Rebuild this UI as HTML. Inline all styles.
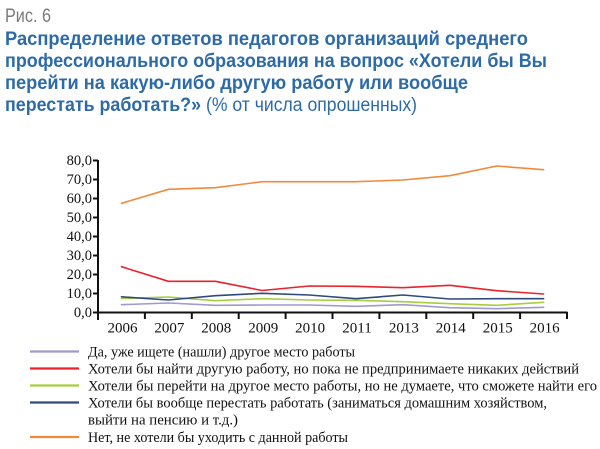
<!DOCTYPE html>
<html>
<head>
<meta charset="utf-8">
<style>
html,body{margin:0;padding:0;background:#fff;}
svg{display:block;}
</style>
</head>
<body>
<svg width="600" height="449" viewBox="0 0 600 449" xmlns="http://www.w3.org/2000/svg">
  <rect width="600" height="449" fill="#fff"/>
  <!-- Header -->
  <text x="5" y="22" font-family="Liberation Sans, sans-serif" font-size="19" fill="#7a7a7a" textLength="46" lengthAdjust="spacingAndGlyphs">Рис. 6</text>
  <g font-family="Liberation Sans, sans-serif" font-size="19" font-weight="bold" fill="#2d6aa8">
    <text x="5" y="45" textLength="523" lengthAdjust="spacingAndGlyphs">Распределение ответов педагогов организаций среднего</text>
    <text x="5" y="67" textLength="542" lengthAdjust="spacingAndGlyphs">профессионального образования на вопрос «Хотели бы Вы</text>
    <text x="5" y="89" textLength="463" lengthAdjust="spacingAndGlyphs">перейти на какую-либо другую работу или вообще</text>
    <text x="5" y="111" textLength="196" lengthAdjust="spacingAndGlyphs">перестать работать?»</text>
  </g>
  <text x="206" y="111" font-family="Liberation Sans, sans-serif" font-size="19" fill="#2d6aa8" textLength="211" lengthAdjust="spacingAndGlyphs">(% от числа опрошенных)</text>

  <!-- Y axis labels -->
  <g font-family="Liberation Serif, serif" font-size="14.5" fill="#111" text-anchor="end">
    <text x="92" y="165">80,0</text>
    <text x="92" y="184">70,0</text>
    <text x="92" y="203">60,0</text>
    <text x="92" y="222">50,0</text>
    <text x="92" y="241">40,0</text>
    <text x="92" y="260">30,0</text>
    <text x="92" y="279">20,0</text>
    <text x="92" y="298">10,0</text>
    <text x="92" y="317">0,0</text>
  </g>
  <!-- Axes -->
  <g stroke="#111" stroke-width="2" fill="none">
    <line x1="98" y1="160" x2="98" y2="313"/>
    <line x1="97" y1="312.5" x2="567.5" y2="312.5"/>
    <line x1="93" y1="160.5" x2="98" y2="160.5"/>
    <line x1="93" y1="179.5" x2="98" y2="179.5"/>
    <line x1="93" y1="198.5" x2="98" y2="198.5"/>
    <line x1="93" y1="217.5" x2="98" y2="217.5"/>
    <line x1="93" y1="236.5" x2="98" y2="236.5"/>
    <line x1="93" y1="255.5" x2="98" y2="255.5"/>
    <line x1="93" y1="274.5" x2="98" y2="274.5"/>
    <line x1="93" y1="293.5" x2="98" y2="293.5"/>
    <line x1="93" y1="312.5" x2="98" y2="312.5"/>
    <line x1="98" y1="312" x2="98" y2="320"/>
    <line x1="144.9" y1="312" x2="144.9" y2="319"/>
    <line x1="191.8" y1="312" x2="191.8" y2="319"/>
    <line x1="238.7" y1="312" x2="238.7" y2="319"/>
    <line x1="285.6" y1="312" x2="285.6" y2="319"/>
    <line x1="332.5" y1="312" x2="332.5" y2="319"/>
    <line x1="379.4" y1="312" x2="379.4" y2="319"/>
    <line x1="426.3" y1="312" x2="426.3" y2="319"/>
    <line x1="473.2" y1="312" x2="473.2" y2="319"/>
    <line x1="520.1" y1="312" x2="520.1" y2="319"/>
    <line x1="567" y1="312" x2="567" y2="319"/>
  </g>
  <!-- X labels -->
  <g font-family="Liberation Serif, serif" font-size="15" fill="#111" text-anchor="middle">
    <text x="122.5" y="332.5">2006</text>
    <text x="169.4" y="332.5">2007</text>
    <text x="216.3" y="332.5">2008</text>
    <text x="263.2" y="332.5">2009</text>
    <text x="310.1" y="332.5">2010</text>
    <text x="357" y="332.5">2011</text>
    <text x="403.9" y="332.5">2013</text>
    <text x="450.8" y="332.5">2014</text>
    <text x="497.7" y="332.5">2015</text>
    <text x="544.6" y="332.5">2016</text>
  </g>

  <!-- Series -->
  <g fill="none" stroke-width="1.6" stroke-linejoin="round" stroke-linecap="round">
    <polyline stroke="#9e9ad0" points="121.5,304.7 168.4,303 215.3,305.3 262.2,305 309.1,305 356,306.3 402.9,304.7 449.8,307.7 496.7,308.7 543.6,307.3"/>
    <polyline stroke="#a8cd3e" points="121.5,298.5 168.4,297 215.3,300.7 262.2,298.7 309.1,300 356,300.3 402.9,301.7 449.8,303.7 496.7,305.3 543.6,302.3"/>
    <polyline stroke="#2e4b7c" points="121.5,296.8 168.4,300 215.3,295.7 262.2,293.3 309.1,295 356,298.7 402.9,295 449.8,299 496.7,298.7 543.6,298.7"/>
    <polyline stroke="#e8232c" points="121.5,266.7 168.4,281.3 215.3,281.3 262.2,290.5 309.1,286 356,286.3 402.9,287.7 449.8,285.3 496.7,290.7 543.6,294"/>
    <polyline stroke="#f08a3c" points="121.5,203.3 168.4,189.3 215.3,187.7 262.2,181.7 309.1,181.7 356,181.7 402.9,180 449.8,175.7 496.7,166 543.6,169.7"/>
  </g>

  <!-- Legend -->
  <g stroke-width="2.2">
    <line x1="30" y1="351.5" x2="79" y2="351.5" stroke="#9e9ad0"/>
    <line x1="30" y1="368.5" x2="79" y2="368.5" stroke="#e8232c"/>
    <line x1="30" y1="385.5" x2="79" y2="385.5" stroke="#a8cd3e"/>
    <line x1="30" y1="402.5" x2="79" y2="402.5" stroke="#2e4b7c"/>
    <line x1="30" y1="437" x2="79" y2="437" stroke="#f08a3c"/>
  </g>
  <g font-family="Liberation Serif, serif" font-size="15" fill="#111">
    <text x="88" y="356.5" textLength="267" lengthAdjust="spacingAndGlyphs">Да, уже ищете (нашли) другое место работы</text>
    <text x="88" y="373.5" textLength="491" lengthAdjust="spacingAndGlyphs">Хотели бы найти другую работу, но пока не предпринимаете никаких действий</text>
    <text x="88" y="390.5" textLength="509" lengthAdjust="spacingAndGlyphs">Хотели бы перейти на другое место работы, но не думаете, что сможете найти его</text>
    <text x="88" y="407.5" textLength="459" lengthAdjust="spacingAndGlyphs">Хотели бы вообще перестать работать (заниматься домашним хозяйством,</text>
    <text x="88" y="424.5" textLength="150" lengthAdjust="spacingAndGlyphs">выйти на пенсию и т.д.)</text>
    <text x="88" y="442" textLength="260" lengthAdjust="spacingAndGlyphs">Нет, не хотели бы уходить с данной работы</text>
  </g>
</svg>
</body>
</html>
